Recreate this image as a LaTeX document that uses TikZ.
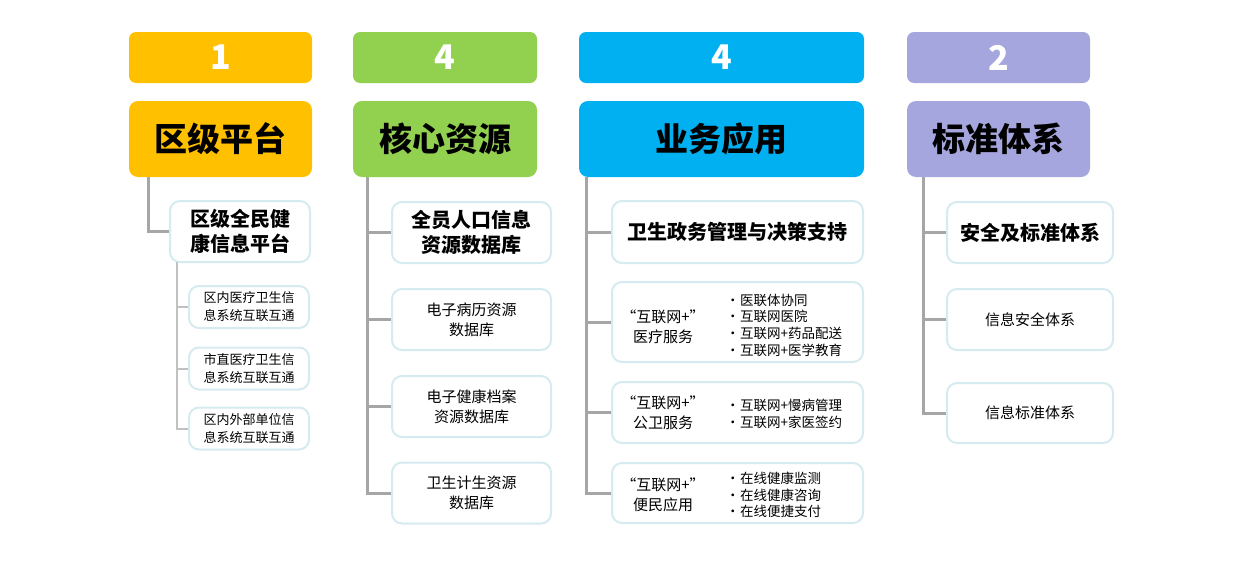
\documentclass[tikz,border=0pt]{standalone}
\usepackage{fontspec}
\setmainfont{Noto Sans CJK SC}
\definecolor{colA}{HTML}{FFC000}
\definecolor{colB}{HTML}{92D050}
\definecolor{colC}{HTML}{00B0F0}
\definecolor{colD}{HTML}{A6A6DE}
\definecolor{boxline}{HTML}{D5EBF0}
\definecolor{trunkgray}{HTML}{A6A6A6}
\newcommand{\itm}[1]{\makebox[14pt][l]{•}#1}
\tikzset{numbox/.style={rounded corners=7pt, minimum height=51pt, text=white,
        font=\fontsize{34}{34}\selectfont\bfseries},
    headbox/.style={rounded corners=9pt, minimum height=76pt,
        font=\fontsize{33}{36}\selectfont\bfseries},
    itembox/.style={draw=boxline, line width=2pt, rounded corners=10pt, fill=white, align=center,
        font=\fontsize{15}{20}\selectfont},
    bigitem/.style={itembox, font=\fontsize{20}{25}\selectfont\bfseries},
    subitem/.style={itembox, font=\fontsize{13}{18}\selectfont},
    plainlabel/.style={align=center, font=\fontsize{15}{20}\selectfont, inner sep=0pt},
    bulletlabel/.style={align=left, anchor=west, font=\fontsize{13.5}{16.7}\selectfont, inner sep=0pt},
    trunk/.style={draw=trunkgray, line width=3pt},
    twig/.style={draw=trunkgray!70, line width=2pt},
    }
\begin{document}
\begin{tikzpicture}[x=1pt,y=-1pt]
	\useasboundingbox (0,0) rectangle (1244,570);
	% column 1
	\node[numbox, fill=colA, minimum width=183pt] (n1) at (220.5,57.5) {1};
	\node[headbox, fill=colA, minimum width=183pt] (h1) at (220.5,139) {区级平台};
	\node[bigitem, minimum width=140pt, minimum height=61pt] (c11) at (240,231.5) {区级全民健\\康信息平台};
	\node[subitem, minimum width=120pt, minimum height=42pt] (c12) at (249,307) {区内医疗卫生信\\息系统互联互通};
	\node[subitem, minimum width=120pt, minimum height=42pt] (c13) at (249,368.5) {市直医疗卫生信\\息系统互联互通};
	\node[subitem, minimum width=120pt, minimum height=42pt] (c14) at (249,428.5) {区内外部单位信\\息系统互联互通};
	\coordinate (t1) at (148,177);
	\coordinate (s1) at (177,262);
	\draw[trunk] (t1) |- (c11.west);
	\draw[twig] (s1) |- (c12.west);
	\draw[twig] (s1) |- (c13.west);
	\draw[twig] (s1) |- (c14.west);
	% column 2
	\node[numbox, fill=colB, minimum width=184pt] (n2) at (445,57.5) {4};
	\node[headbox, fill=colB, minimum width=184pt] (h2) at (445,139) {核心资源};
	\node[bigitem, minimum width=159pt, minimum height=61pt] (c21) at (471.5,232.5) {全员人口信息\\资源数据库};
	\node[itembox, minimum width=159pt, minimum height=61pt] (c22) at (471.5,319.5) {电子病历资源\\数据库};
	\node[itembox, minimum width=159pt, minimum height=61pt] (c23) at (471.5,406.5) {电子健康档案\\资源数据库};
	\node[itembox, minimum width=159pt, minimum height=61pt] (c24) at (471.5,493) {卫生计生资源\\数据库};
	\coordinate (t2) at (367,177);
	\foreach \k in {1,...,4}
		\draw[trunk] (t2) |- (c2\k.west);
	% column 3
	\node[numbox, fill=colC, minimum width=285pt] (n3) at (721.5,57.5) {4};
	\node[headbox, fill=colC, minimum width=285pt] (h3) at (721.5,139) {业务应用};
	\node[bigitem, minimum width=251pt, minimum height=62pt] (c31) at (737.5,232) {卫生政务管理与决策支持};
	\node[itembox, minimum width=251pt, minimum height=80pt] (c32) at (737.5,322) {};
	\node[itembox, minimum width=251pt, minimum height=61pt] (c33) at (737.5,412.5) {};
	\node[itembox, minimum width=251pt, minimum height=60pt] (c34) at (737.5,493) {};
	\node[plainlabel] (c32a) at (663,327) {“互联网+”\\医疗服务};
	\node[plainlabel] (c33a) at (663,412.5) {“互联网+”\\公卫服务};
	\node[plainlabel] (c34a) at (663,495) {“互联网+”\\便民应用};
	\node[bulletlabel] (c32b) at (726,325) {\itm{医联体协同}\\\itm{互联网医院}\\\itm{互联网+药品配送}\\\itm{互联网+医学教育}};
	\node[bulletlabel] (c33b) at (726,414) {\itm{互联网+慢病管理}\\\itm{互联网+家医签约}};
	\node[bulletlabel] (c34b) at (726,495) {\itm{在线健康监测}\\\itm{在线健康咨询}\\\itm{在线便捷支付}};
	\coordinate (t3) at (586,177);
	\foreach \k in {1,...,4}
		\draw[trunk] (t3) |- (c3\k.west);
	% column 4
	\node[numbox, fill=colD, minimum width=183pt] (n4) at (998.5,57.5) {2};
	\node[headbox, fill=colD, minimum width=183pt] (h4) at (998.5,139) {标准体系};
	\node[bigitem, minimum width=166pt, minimum height=61pt] (c41) at (1030,232.5) {安全及标准体系};
	\node[itembox, minimum width=166pt, minimum height=61pt] (c42) at (1030,319.5) {信息安全体系};
	\node[itembox, minimum width=166pt, minimum height=60pt] (c43) at (1030,413) {信息标准体系};
	\coordinate (t4) at (923,177);
	\foreach \k in {1,...,3}
		\draw[trunk] (t4) |- (c4\k.west);
\end{tikzpicture}
\end{document}
